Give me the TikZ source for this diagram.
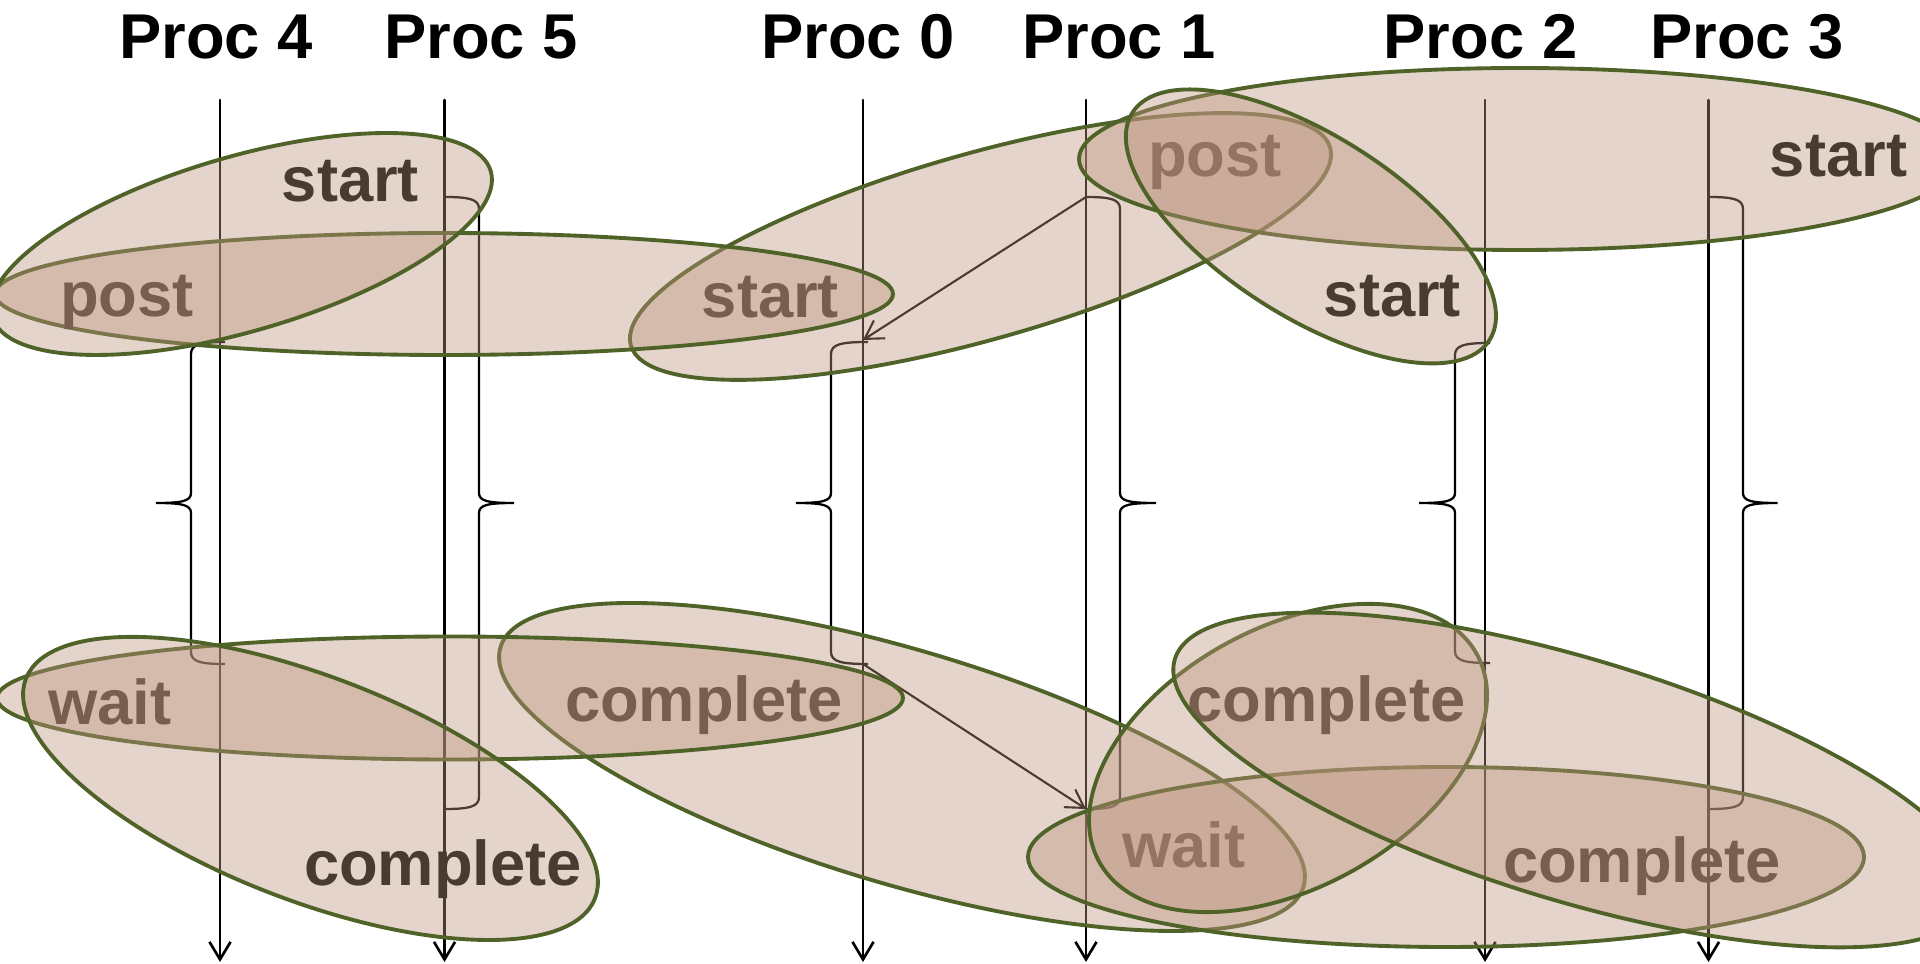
\documentclass[tikz,border=0pt]{standalone}
\usepackage{fontspec}
\setmainfont{Liberation Sans}
\usepackage{tkz-euclide}
\usetikzlibrary{arrows.meta}

\definecolor{grpline}{RGB}{79,98,40}
\definecolor{grpfill}{RGB}{189,148,125}
\definecolor{grpink}{RGB}{74,59,49}

% brace beside a process line: end x, body x, tip x, top y, middle y, bottom y
\newcommand{\procbrace}[6]{%
  \draw[brc] (#1,#4) .. controls ({#2+0.3*(#1-#2)},#4) and (#2,#4+2) .. (#2,#4+12)
    -- (#2,#5-10) .. controls (#2,#5-2) and ({#2+0.25*(#3-#2)},#5) .. (#3,#5)
    .. controls ({#2+0.25*(#3-#2)},#5) and (#2,#5+2) .. (#2,#5+10)
    -- (#2,#6-12) .. controls (#2,#6-2) and ({#2+0.3*(#1-#2)},#6) .. (#1,#6);}

\begin{document}
\begin{tikzpicture}[x=0.01cm,y=-0.01cm,
  proc/.style={line width=0.75pt,-{Straight Barb[length=5pt,width=6pt]}},
  msg/.style={line width=0.6pt,-{Straight Barb[length=5pt,width=6pt]}},
  brc/.style={line width=0.65pt},
  grp/.style={draw=grpline,line width=1.1pt,fill=grpfill,fill opacity=0.4},
  ev/.style={font=\bfseries\fontsize{18}{20}\selectfont,text=grpink,anchor=base,inner sep=0pt},
  title/.style={font=\bfseries\fontsize{18}{20}\selectfont,anchor=base,inner sep=0pt}]
            \useasboundingbox (0,0) rectangle (1920,964);
            % process lines
            \tkzDefPoint(220,100){A4}
            \tkzDefPoint(220,962){B4}
            \tkzDefPoint(444.5,100){A5}
            \tkzDefPoint(444.5,962){B5}
            \tkzDefPoint(863,100){A0}
            \tkzDefPoint(863,962){B0}
            \tkzDefPoint(1086,100){A1}
            \tkzDefPoint(1086,962){B1}
            \tkzDefPoint(1485,100){A2}
            \tkzDefPoint(1485,962){B2}
            \tkzDefPoint(1708.5,100){A3}
            \tkzDefPoint(1708.5,962){B3}
            \tkzDrawSegments[proc](A4,B4 A5,B5 A0,B0 A1,B1 A2,B2 A3,B3)
            % braces from post/start to wait/complete
            \procbrace{225}{191}{156}{342}{503}{664}
            \procbrace{444.5}{479}{514}{197}{503}{809}
            \procbrace{868}{831}{796}{342}{503}{664}
            \procbrace{1086}{1120}{1156}{197}{503}{809}
            \procbrace{1490}{1455}{1419}{343}{503}{663}
            \procbrace{1708.5}{1743}{1777.5}{197}{503}{809}
            % messages
            \tkzDefPoint(1086,197){Q1}
            \tkzDefPoint(863,340){Q0}
            \tkzDefPoint(863,664){R0}
            \tkzDefPoint(1086,809){R1}
            \tkzDrawSegment[msg](Q1,Q0)
            \tkzDrawSegment[msg](R0,R1)
            % groups, top
            \tkzDefPoint(980.5,246.5){T1}
            \tkzDefPoint(444,294){T2}
            \tkzDefPoint(241.5,244){T3}
            \tkzDefPoint(1520,159){T4}
            \tkzDefPoint(1311,226.5){T5}
            \draw[grp,rotate around={15.8:(T1)}] (T1) ellipse [x radius=363.4,y radius=93];
            \draw node[ev] (st0) at (770.5,318) {start};
            \draw node[ev] (po1) at (1215,177) {post};
            \draw[grp] (T2) ellipse [x radius=449,y radius=61];
            \draw node[ev] (po4) at (127,317) {post};
            \draw[grp,rotate around={16.3:(T3)}] (T3) ellipse [x radius=259.7,y radius=87.2];
            \draw node[ev] (st5) at (350.5,202) {start};
            \draw[grp] (T4) ellipse [x radius=441,y radius=91];
            \draw node[ev] (st3) at (1838.5,177) {start};
            \draw[grp,rotate around={-32.5:(T5)}] (T5) ellipse [x radius=211.7,y radius=90.5];
            \draw node[ev] (st2) at (1392.5,317) {start};
            % groups, bottom
            \tkzDefPoint(902,767){G1}
            \tkzDefPoint(450,698){G2}
            \tkzDefPoint(310.5,788.5){G3}
            \tkzDefPoint(1446,857){G4}
            \tkzDefPoint(1288,758){G5}
            \tkzDefPoint(1575,780){G6}
            \draw[grp,rotate around={-16.6:(G1)}] (G1) ellipse [x radius=419,y radius=117];
            \draw node[ev] (co0) at (704,722) {complete};
            \draw node[ev] (wa1) at (1184,868) {wait};
            \draw[grp] (G2) ellipse [x radius=453,y radius=61.5];
            \draw node[ev] (wa4) at (110,725) {wait};
            \draw[grp,rotate around={-21.1:(G3)}] (G3) ellipse [x radius=305,y radius=112];
            \draw node[ev] (co5) at (443,886) {complete};
            \draw[grp] (G4) ellipse [x radius=418,y radius=90];
            \draw node[ev] (co3) at (1642,883) {complete};
            \draw[grp,rotate around={28.8:(G5)}] (G5) ellipse [x radius=215.5,y radius=130];
            \draw node[ev] (co2) at (1326.5,722) {complete};
            \draw[grp,rotate around={-16.8:(G6)}] (G6) ellipse [x radius=418,y radius=121];
            % process names
            \draw node[title] (t4) at (216,59) {Proc 4};
            \draw node[title] (t5) at (481,59) {Proc 5};
            \draw node[title] (t0) at (858,59) {Proc 0};
            \draw node[title] (t1) at (1119,59) {Proc 1};
            \draw node[title] (t2) at (1480.5,59) {Proc 2};
            \draw node[title] (t3) at (1747,59) {Proc 3};
        \end{tikzpicture}
\end{document}
